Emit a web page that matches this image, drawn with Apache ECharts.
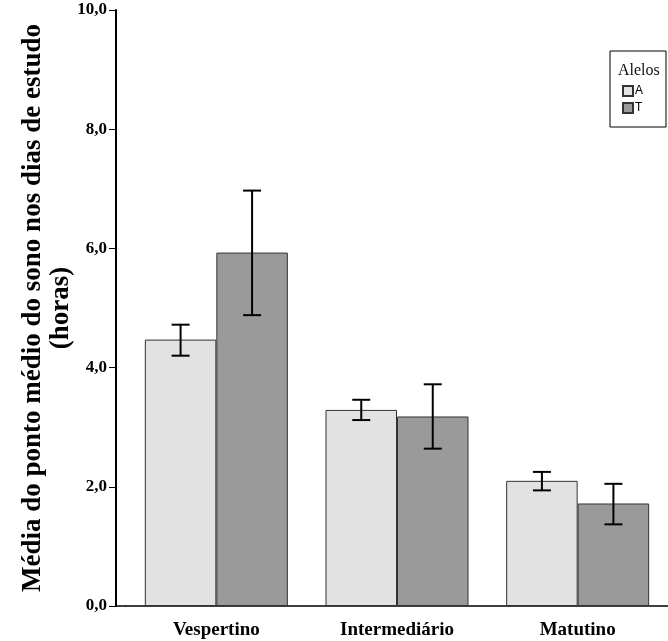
<!DOCTYPE html>
<html>
<head>
<meta charset="utf-8">
<style>
  html, body { margin: 0; padding: 0; background: #fff; }
  #chart { width: 668px; height: 641px; }
</style>
<script src="https://cdn.jsdelivr.net/npm/echarts@6/dist/echarts.min.js"></script>
</head>
<body>
<div id="chart"></div>
<script>
  // data
  var categories = ['Vespertino', 'Intermediário', 'Matutino']
  var alleles = ['A', 'T']
  var meanA = [4.47, 3.29, 2.10]
  var meanT = [5.93, 3.18, 1.72]
  var lowA = [4.20, 3.12, 1.94]
  var highA = [4.72, 3.46, 2.25]
  var lowT = [4.88, 2.64, 1.37]
  var highT = [6.97, 3.72, 2.05]

  var GRID_LEFT = 126
  var Y_OFFSET = 10
  var BAR_W = 71.5
  var SERIF = 'Liberation Serif'

  var chart = echarts.init(document.getElementById('chart'))

  function errorSeries (name, low, high, side) {
    return {
      name: name + ' err',
      type: 'custom',
      z: 10,
      data: low.map(function (v, i) { return [i, v, high[i]] }),
      renderItem: function (params, api) {
        var top = api.coord([api.value(0), api.value(2)])
        var bot = api.coord([api.value(0), api.value(1)])
        var x = top[0] + side * BAR_W / 2
        var cap = 9
        var st = { stroke: '#000', lineWidth: 2 }
        return {
          type: 'group',
          children: [
            { type: 'line', shape: { x1: x, y1: top[1], x2: x, y2: bot[1] }, style: st },
            { type: 'line', shape: { x1: x - cap, y1: top[1], x2: x + cap, y2: top[1] }, style: st },
            { type: 'line', shape: { x1: x - cap, y1: bot[1], x2: x + cap, y2: bot[1] }, style: st }
          ]
        }
      }
    }
  }

  chart.setOption({
    animation: false,
    backgroundColor: '#fff',
    title: {
      text: 'Alelos',
      left: 618,
      top: 63,
      padding: 0,
      textStyle: { fontFamily: SERIF, fontSize: 16, fontWeight: 'normal', color: '#111' }
    },
    legend: {
      data: alleles,
      orient: 'vertical',
      left: 610,
      top: 51,
      padding: [34, 23, 13, 12],
      borderColor: '#000',
      borderWidth: 1,
      itemWidth: 10,
      itemHeight: 10,
      itemGap: 5,
      icon: 'rect',
      textStyle: { fontFamily: 'Liberation Sans', fontSize: 12, color: '#000', padding: [0, 0, 0, -3], lineHeight: 12 }
    },
    grid: {
      left: GRID_LEFT,
      right: 0,
      top: 10,
      bottom: 35,
      containLabel: false
    },
    xAxis: {
      type: 'category',
      data: categories,
      axisLine: { lineStyle: { color: '#000', width: 1.5 } },
      axisTick: { alignWithLabel: true, length: 10, lineStyle: { color: '#000', width: 1 } },
      axisLabel: { fontFamily: SERIF, fontSize: 19, fontWeight: 'bold', color: '#000', margin: 15 }
    },
    yAxis: {
      type: 'value',
      min: 0,
      max: 10,
      interval: 2,
      offset: Y_OFFSET,
      name: 'Média do ponto médio do sono nos dias de estudo\n(horas)',
      nameLocation: 'middle',
      nameRotate: 90,
      nameGap: 41,
      nameMoveOverlap: false,
      nameTextStyle: { fontFamily: SERIF, fontSize: 27, fontWeight: 'bold', color: '#000', lineHeight: 28 },
      axisLine: { show: true, lineStyle: { color: '#000', width: 2 } },
      axisTick: { show: true, length: 7, lineStyle: { color: '#000', width: 1 } },
      splitLine: { show: false },
      axisLabel: {
        fontFamily: SERIF,
        fontSize: 17,
        fontWeight: 'bold',
        color: '#000',
        margin: 9,
        formatter: function (v) { return v.toFixed(1).replace('.', ',') }
      }
    },
    series: [
      {
        name: 'A',
        type: 'bar',
        data: meanA,
        barWidth: BAR_W,
        barGap: '0%',
        itemStyle: { color: '#e2e2e2', borderColor: '#333', borderWidth: 1 }
      },
      {
        name: 'T',
        type: 'bar',
        data: meanT,
        barWidth: BAR_W,
        itemStyle: { color: '#9a9a9a', borderColor: '#333', borderWidth: 1 }
      },
      errorSeries('A', lowA, highA, -1),
      errorSeries('T', lowT, highT, 1)
    ]
  })

  // baseline continues left to the (offset) y axis
  var y0 = chart.convertToPixel({ yAxisIndex: 0 }, 0)
  chart.setOption({
    graphic: [{
      type: 'line',
      shape: { x1: GRID_LEFT - Y_OFFSET, y1: y0, x2: GRID_LEFT, y2: y0 },
      style: { stroke: '#000', lineWidth: 1.5 }
    }]
  })
</script>
</body>
</html>
